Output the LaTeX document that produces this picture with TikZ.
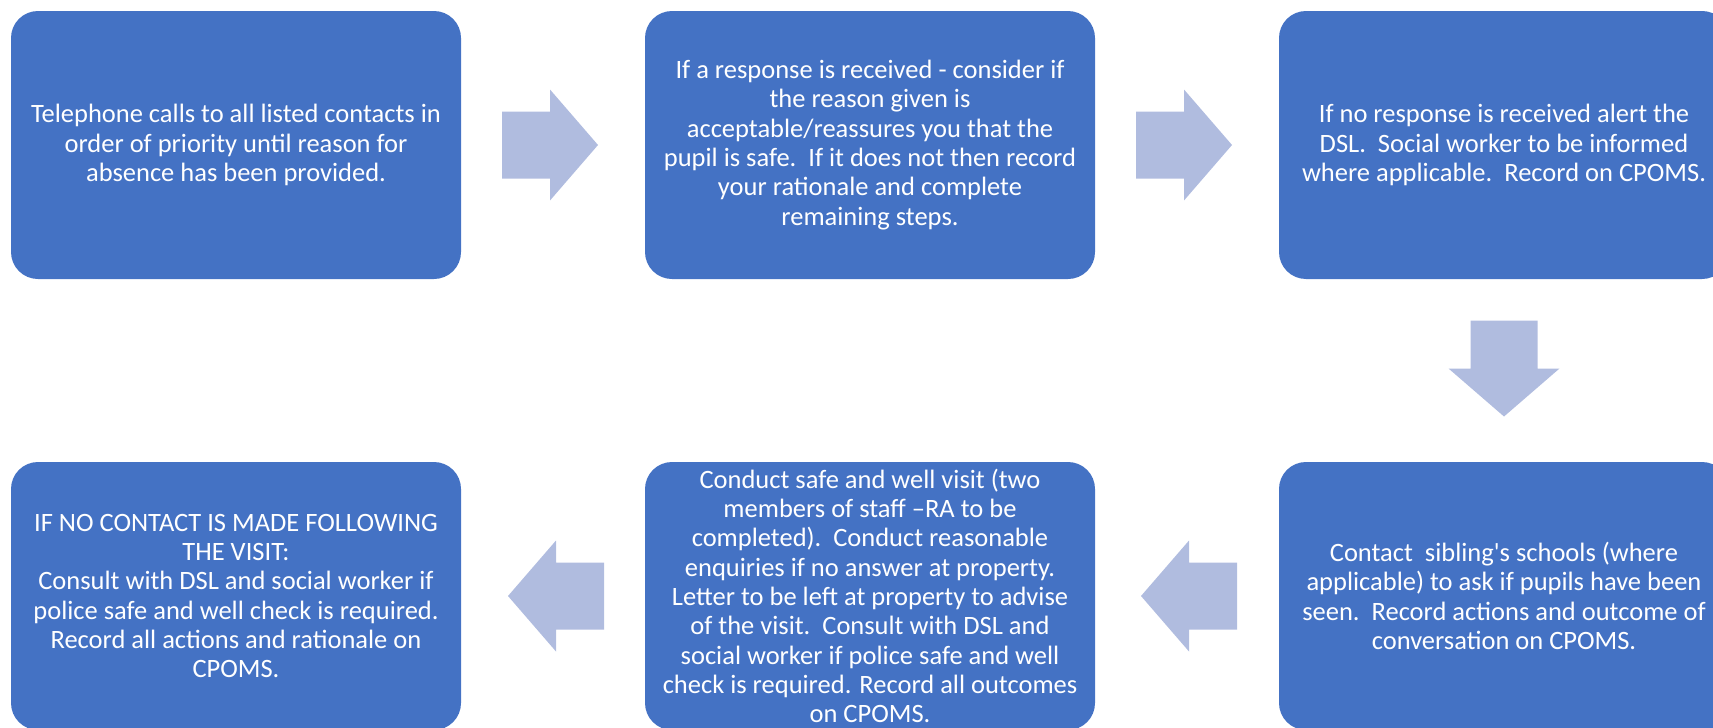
\documentclass[tikz,border=0pt]{standalone}
\usepackage{fontspec}
\setmainfont{Carlito}
\definecolor{boxblue}{HTML}{4472C4}
\definecolor{arrowc}{RGB}{176,188,223}
\newcommand{\blockarr}[2]{\fill[arrowc,shift={(#1)},rotate=#2] (-48,-33.5) -- (0,-33.5) -- (0,-55.5) -- (48,0) -- (0,55.5) -- (0,33.5) -- (-48,33.5) -- cycle;}
\begin{document}
\begin{tikzpicture}[x=1pt,y=-1pt,
  box/.style={rectangle, rounded corners=27pt, minimum width=450pt, minimum height=268pt,
    fill=boxblue, text=white, align=center, inner sep=0pt,
    font=\fontsize{26.5}{29.3}\selectfont}]
\useasboundingbox (0,0) rectangle (1713,728);
\clip (0,0) rectangle (1713,728);
\node[box] (b1) at (236,145) {Telephone calls to all listed contacts in\\ order of priority until reason for\\ absence has been provided.};
\node[box] (b2) at (870,145) {If a response is received - consider if\\ the reason given is\\ acceptable/reassures you that the\\ pupil is safe.\ \ If it does not then record\\ your rationale and complete\\ remaining steps.};
\node[box] (b3) at (1504,145) {If no response is received alert the\\ DSL.\ \ Social worker to be informed\\ where applicable.\ \ Record on CPOMS.};
\node[box] (b4) at (1504,596) {Contact\ \ sibling\textquotesingle s schools (where\\ applicable) to ask if pupils have been\\ seen.\ \ Record actions and outcome of\\ conversation on CPOMS.};
\node[box] (b5) at (870,596) {Conduct safe and well visit (two\\ members of staff –RA to be\\ completed).\ \ Conduct reasonable\\ enquiries if no answer at property.\\ Letter to be left at property to advise\\ of the visit.\ \ Consult with DSL and\\ social worker if police safe and well\\ check is required. Record all outcomes\\ on CPOMS.};
\node[box] (b6) at (236,596) {IF NO CONTACT IS MADE FOLLOWING\\ THE VISIT:\\ Consult with DSL and social worker if\\ police safe and well check is required.\\ Record all actions and rationale on\\ CPOMS.};
\path (b1.east) -- (b2.west) coordinate[midway, xshift=-3pt] (a1);
\path (b2.east) -- (b3.west) coordinate[midway, xshift=-3pt] (a2);
\path (b3.south) -- (b4.north) coordinate[midway, yshift=2pt] (a3);
\path (b4.west) -- (b5.east) coordinate[midway, xshift=2pt] (a4);
\path (b5.west) -- (b6.east) coordinate[midway, xshift=3pt] (a5);
\blockarr{a1}{0}
\blockarr{a2}{0}
\blockarr{a3}{-90}
\blockarr{a4}{180}
\blockarr{a5}{180}
\end{tikzpicture}
\end{document}
